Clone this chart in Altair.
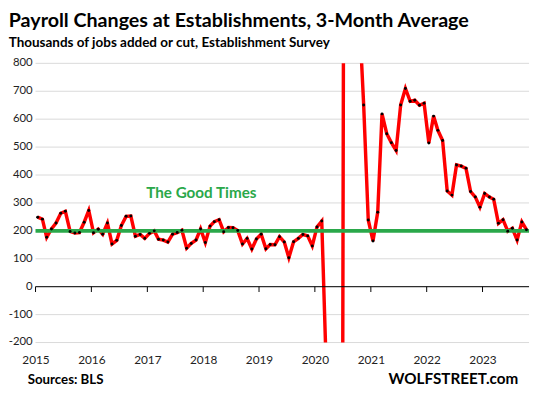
import altair as alt
import pandas as pd

# ---- data (thousands, 3-month average), Jan 2015 .. Oct 2023 ----
years = list(range(2015, 2024))
v2015 = [249, 242, 177, 207, 228, 263, 270, 198, 192, 194, 231, 273]
v2016 = [193, 206, 188, 228, 153, 166, 219, 252, 253, 181, 187, 173]
v2017 = [191, 200, 170, 167, 160, 188, 194, 202, 138, 155, 167, 207]
v2018 = [158, 217, 233, 240, 197, 212, 211, 201, 153, 173, 135, 171]
v2019 = [188, 136, 151, 150, 179, 160, 104, 161, 173, 187, 182, 146]
v2020 = [214, 235, -285, -7200, -6340, -4270, 3135, 2720, 1340, 1000, 651, 239]
v2021 = [164, 267, 619, 548, 516, 488, 651, 710, 664, 668, 650, 657]
v2022 = [515, 611, 560, 524, 343, 328, 436, 432, 424, 341, 321, 285]
v2023 = [334, 321, 313, 227, 240, 199, 209, 167, 232, 204]

payroll = v2015 + v2016 + v2017 + v2018 + v2019 + v2020 + v2021 + v2022 + v2023
months = [f"{y}-{m:02d}-15" for y in years for m in range(1, 13)][: len(payroll)]
df = pd.DataFrame({"date": months, "value": payroll})

good_level = 200
good_label = "The Good Times"
good_label_date = "2017-12-20"
good_label_value = 336
y_ticks = list(range(-200, 801, 100))
tick_dates = [f"{y}-01-01" for y in years]

FONT = "Lato"
RED = "#FF0000"
GREEN = "#2AA84A"

x_scale = alt.Scale(
    type="utc",
    domain=[alt.DateTime(year=2015, month=1, date=1, utc=True),
            alt.DateTime(year=2023, month=11, date=1, utc=True)],
)
x_axis = alt.Axis(
    values=[alt.DateTime(year=y, month=1, date=1, utc=True) for y in years],
    format="%Y", title=None, grid=False, domain=False, ticks=False, tickSize=0,
    labelPadding=12, labelFont=FONT, labelFontSize=12, labelColor="#222222",
    labelOverlap=False, labelFlush=False,
)
y_scale = alt.Scale(domain=[-200, 800], nice=False, zero=False)

# gridlines and y labels drawn from the tick list
grid_df = pd.DataFrame({"value": y_ticks, "label": [str(v) for v in y_ticks]})
grid = alt.Chart(grid_df).mark_rule(color="#D9D9D9", strokeWidth=1).encode(
    y=alt.Y("value:Q", scale=y_scale, axis=None)
)
y_labels = alt.Chart(grid_df).mark_text(
    font=FONT, fontSize=11.5, color="#222222", align="right", baseline="middle"
).encode(x=alt.value(-3), y=alt.Y("value:Q", axis=None), text="label:N")

base = alt.Chart(df)

line = base.mark_line(color=RED, strokeWidth=3.5, clip=True).encode(
    x=alt.X("date:T", scale=x_scale, axis=x_axis),
    y=alt.Y("value:Q", axis=None),
)
dots = base.mark_circle(color="black", size=9, opacity=1, clip=True).encode(
    x=alt.X("date:T", axis=x_axis), y=alt.Y("value:Q", axis=None)
)

zero_line = alt.Chart(pd.DataFrame({"value": [0]})).mark_rule(
    color="black", strokeWidth=1
).encode(y=alt.Y("value:Q", axis=None))

tick_df = pd.DataFrame({"date": tick_dates, "value": [0] * len(tick_dates),
                        "value2": [-19] * len(tick_dates)})
ticks = alt.Chart(tick_df).mark_rule(color="black", strokeWidth=1).encode(
    x=alt.X("date:T", axis=x_axis), y=alt.Y("value:Q", axis=None), y2="value2:Q"
)

good = alt.Chart(pd.DataFrame({"value": [good_level]})).mark_rule(
    color=GREEN, strokeWidth=3.8
).encode(y=alt.Y("value:Q", axis=None))

good_text = alt.Chart(
    pd.DataFrame({"date": [good_label_date], "value": [good_label_value], "t": [good_label]})
).mark_text(
    color=GREEN, font=FONT, fontSize=15.5, fontWeight="bold", align="center", baseline="middle"
).encode(x=alt.X("date:T", axis=x_axis), y=alt.Y("value:Q", axis=None), text="t:N")

sources = alt.Chart(pd.DataFrame({"t": ["Sources: BLS"]})).mark_text(
    font=FONT, fontSize=13.5, fontWeight="bold", align="left", baseline="alphabetic", color="black"
).encode(x=alt.value(-8), y=alt.value(326.5), text="t:N")

brand = alt.Chart(pd.DataFrame({"t": ["WOLFSTREET.com"]})).mark_text(
    font=FONT, fontSize=15.5, fontWeight="bold", align="right", baseline="alphabetic", color="black"
).encode(x=alt.value(491), y=alt.value(326.5), text="t:N")

chart = alt.layer(
    grid, line, zero_line, ticks, good, dots, good_text, y_labels, sources, brand
).properties(
    width=502,
    height=284,
    padding={"left": 0, "top": 0, "right": 0, "bottom": 0},
    title=alt.TitleParams(
        text="Payroll Changes at Establishments, 3-Month Average",
        subtitle="Thousands of jobs added or cut, Establishment Survey",
        anchor="start", frame="bounds", font=FONT, fontSize=20, fontWeight="bold",
        color="black", subtitleFont=FONT, subtitleFontSize=13.7,
        subtitleFontWeight="bold", subtitleColor="black", subtitlePadding=5, offset=8,
    ),
).configure_view(stroke=None)

chart.save("out.html", embed_options={"renderer": "svg", "actions": False})
